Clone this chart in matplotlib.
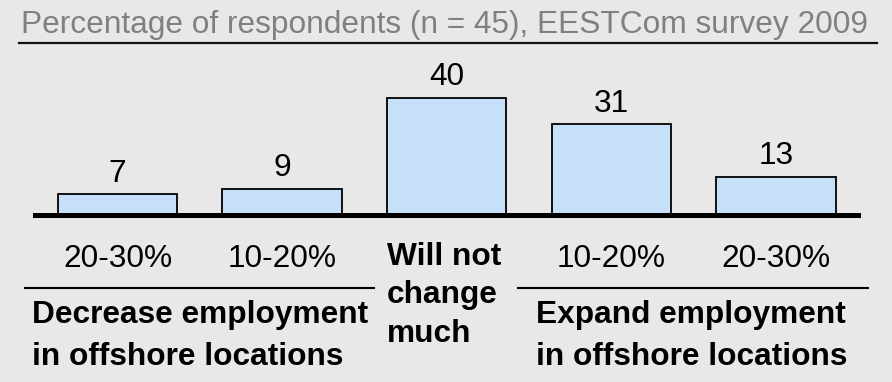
import matplotlib
matplotlib.use("Agg")
import matplotlib.pyplot as plt
from matplotlib import transforms
from matplotlib.lines import Line2D

plt.rcParams['font.family'] = ['Liberation Sans', 'DejaVu Sans']

# survey answers, share of respondents in percent
categorias = ['20-30%', '10-20%', 'Will not\nchange\nmuch', '10-20%', '20-30%']
valores = [7, 9, 40, 31, 13]
titulo = 'Percentage of respondents (n = 45), EESTCom survey 2009'
grupo_esq = 'Decrease employment\nin offshore locations'
grupo_dir = 'Expand employment\nin offshore locations'

W, H = 892, 382
FUNDO = '#e8e8e8'
AZUL = '#c6e0fa'
TAM = 22.8


def fx(px):
    return px / W


def fy(py):
    # pixel measured from the top -> figure fraction
    return 1 - py / H


fig = plt.figure(figsize=(W / 100, H / 100), dpi=100, facecolor=FUNDO)

# bar area: baseline at 215 px from top, about 2.93 px per percent
ax = fig.add_axes([fx(35.2), (H - 215) / H, fx(823), 132 / H])
ax.set_facecolor(FUNDO)
x = list(range(len(valores)))
ax.bar(x, valores, width=0.725, color=AZUL, edgecolor='black', linewidth=1.3, zorder=2)
ax.set_xlim(-0.5, len(valores) - 0.5)
ax.set_ylim(0, 45)
ax.axhline(0, color='black', linewidth=3.6, clip_on=False, zorder=3)
for s in ax.spines.values():
    s.set_visible(False)
ax.set_xticks([])
ax.set_yticks([])

for xi, v in zip(x, valores):
    ax.annotate(str(v), (xi, v), xytext=(0, 9), textcoords='offset points',
                ha='center', va='baseline', fontsize=TAM, color='black')

# category labels under the bars (multi-line text is placed by its last baseline)
trans = transforms.blended_transform_factory(ax.transData, fig.transFigure)
for xi, cat in zip(x, categorias):
    if '\n' in cat:
        ax.text(xi - 0.3625, fy(342), cat, transform=trans, ha='left', va='baseline',
                fontsize=TAM, fontweight='bold', linespacing=1.37)
    else:
        ax.text(xi, fy(267), cat, transform=trans, ha='center', va='baseline', fontsize=TAM)

# group captions with their rules
fig.add_artist(Line2D([fx(25), fx(374)], [fy(288), fy(288)], color='black', linewidth=1.5))
fig.add_artist(Line2D([fx(518), fx(868)], [fy(288), fy(288)], color='black', linewidth=1.5))
fig.text(fx(32), fy(365), grupo_esq, ha='left', va='baseline', fontsize=TAM,
         fontweight='bold', linespacing=1.5)
fig.text(fx(536), fy(365), grupo_dir, ha='left', va='baseline', fontsize=TAM,
         fontweight='bold', linespacing=1.5)

# title and its underline
fig.text(fx(21), fy(33), titulo, ha='left', va='baseline', fontsize=22.8, color='#808080')
fig.add_artist(Line2D([fx(19), fx(877)], [fy(43), fy(43)], color='#111111', linewidth=1.6))

fig.savefig('out.png', dpi=100, facecolor=FUNDO)
